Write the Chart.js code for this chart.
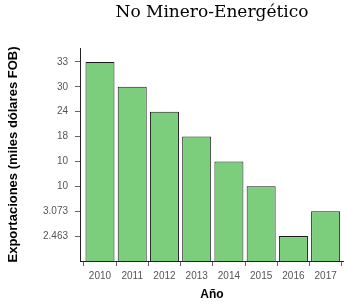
<!DOCTYPE html>
<html>
<head>
<meta charset="utf-8">
<script src="https://cdn.jsdelivr.net/npm/chart.js@4"></script>
<style>
  html, body { margin: 0; padding: 0; background: #fff; }
  #wrap { width: 344px; height: 306px; }
</style>
</head>
<body>
<div id="wrap"><canvas id="export_chart" width="344" height="306"></canvas></div>
<script>
// datos
var anios = ['2010', '2011', '2012', '2013', '2014', '2015', '2016', '2017'];
// posicion de cada barra en el eje ordinal (1 = abajo)
var posicion = [8, 7, 6, 5, 4, 3, 1, 2];
// etiquetas del eje y, de abajo hacia arriba
var etiquetasY = ['2.463', '3.073', '10', '10', '18', '24', '30', '33'];

var ctx = document.getElementById("export_chart");
var chart = new Chart(ctx, {
    type: 'bar',
    data: {
        datasets: [{
            data: anios.map(function(a, i){ return {x: Number(a), y: posicion[i]}; }),
            backgroundColor: '#7CCD7C',
            borderColor: '#1a1a1a',
            borderWidth: 1,
            categoryPercentage: 1,
            barPercentage: 0.9
        }]
    },
    options: {
        responsive: false,
        animation: false,
        layout: { padding: 0 },
        plugins: {
            legend: { display: false },
            tooltip: { enabled: false },
            title: {
                display: true,
                text: 'No Minero-Energético',
                fullSize: false,
                color: '#000',
                font: { family: 'DejaVu Serif', size: 17, weight: 'normal', lineHeight: 1.2 },
                padding: { top: 2, bottom: 25.6 }
            }
        },
        scales: {
            x: {
                type: 'linear',
                offset: false,
                min: 2009.38,
                max: 2017.57,
                afterBuildTicks: function(scale){
                    scale.ticks = anios.map(function(a){ return {value: Number(a)}; });
                },
                afterFit: function(scale){ scale.height = 45; },
                border: { display: true, color: '#222', width: 1 },
                grid: { drawOnChartArea: false, drawTicks: true, tickLength: 5, color: '#666' },
                ticks: {
                    callback: function(v){ return String(v); },
                    color: '#555',
                    font: { family: 'Liberation Sans', size: 10 },
                    padding: 4,
                    maxRotation: 0,
                    autoSkip: false
                },
                title: {
                    display: true,
                    text: 'Año',
                    color: '#000',
                    font: { family: 'Liberation Sans', size: 12, weight: 'bold', lineHeight: 1.2 },
                    padding: { top: 0, bottom: 4 }
                }
            },
            y: {
                type: 'linear',
                min: 0,
                max: 8.56,
                afterBuildTicks: function(scale){
                    scale.ticks = etiquetasY.map(function(t, i){ return {value: i + 1}; });
                },
                afterFit: function(scale){ scale.width = 80; },
                border: { display: true, color: '#222', width: 1 },
                grid: { drawOnChartArea: false, drawTicks: true, tickLength: 5, color: '#666' },
                ticks: {
                    callback: function(v){ return etiquetasY[v - 1]; },
                    color: '#555',
                    font: { family: 'Liberation Sans', size: 10 },
                    padding: 7,
                    autoSkip: false
                },
                title: {
                    display: true,
                    text: 'Exportaciones (miles dólares FOB)',
                    color: '#000',
                    font: { family: 'Liberation Sans', size: 13, weight: 'bold', lineHeight: 1.2 },
                    padding: { top: 6, bottom: 0 }
                }
            }
        }
    }
});
</script>
</body>
</html>
